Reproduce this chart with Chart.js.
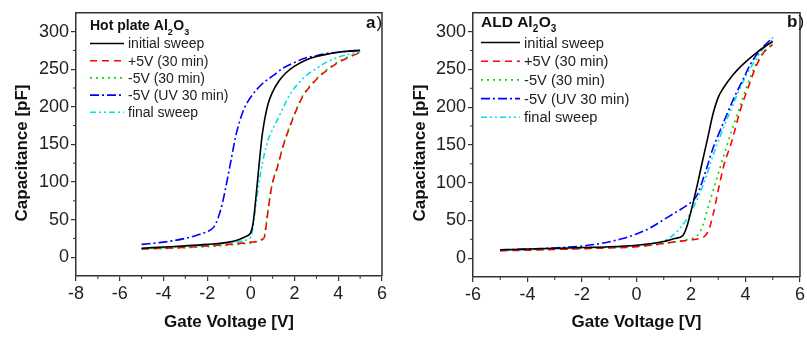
<!DOCTYPE html>
<html>
<head>
<meta charset="utf-8">
<script src="https://cdn.jsdelivr.net/npm/chart.js@4.4.1/dist/chart.umd.min.js"></script>
<style>
  html, body { margin: 0; padding: 0; background: #fff; }
  #wrap { position: relative; width: 807px; height: 337px; }
  #left { position: absolute; left: 0; top: 0; }
  #right { position: absolute; left: 400px; top: 0; }
</style>
</head>
<body>
<div id="wrap">
  <canvas id="left" width="400" height="337"></canvas>
  <canvas id="right" width="407" height="337"></canvas>
</div>
<script>
// series names (same for both panels)
const seriesLabels = ['initial sweep', '+5V (30 min)', '-5V (30 min)', '-5V (UV 30 min)', 'final sweep'];
const capTicks = [0, 50, 100, 150, 200, 250, 300];

// ---- panel a) hot plate Al2O3 : gate voltage [V] / capacitance [pF]
const hpInitialV = [-5, -4, -3, -2, -1, -0.5, -0.2, 0, 0.1, 0.2, 0.3, 0.4, 0.5, 0.6, 0.8, 1.0, 1.3, 1.6, 2.0, 2.5, 3.0, 3.5, 4.0, 4.5, 5];
const hpInitialC = [12, 13.5, 15, 17, 20, 24, 28, 33, 45, 70, 100, 130, 158, 178, 205, 220, 235, 245, 254, 262, 267, 270, 272.5, 274, 275];
const hpPlusV = [-5, -4, -3, -2, -1, 0, 0.3, 0.5, 0.62, 0.7, 0.8, 0.9, 1.0, 1.2, 1.5, 1.8, 2.1, 2.4, 2.8, 3.2, 3.6, 4.0, 4.5, 5];
const hpPlusC = [11, 12, 13, 15, 17, 20, 21, 23, 27, 42, 65, 85, 100, 118, 150, 175, 197, 215, 230, 242, 251, 259, 266, 272];
const hpMinusV = [-5, -4, -3, -2, -1, 0, 0.3, 0.5, 0.62, 0.7, 0.8, 0.9, 1.0, 1.2, 1.5, 1.8, 2.1, 2.4, 2.8, 3.2, 3.6, 4.0, 4.5, 5];
const hpMinusC = [11, 11.5, 12.5, 14, 16, 19, 21, 24, 28, 44, 66, 86, 101, 119, 151, 176, 198, 216, 231, 243, 252, 260, 267, 273];
const hpUvV = [-5, -4, -3, -2.5, -2, -1.7, -1.5, -1.3, -1.1, -0.9, -0.7, -0.5, -0.3, 0, 0.5, 1.0, 1.5, 2.0, 2.5, 3.0, 3.5, 4.0, 4.5, 5];
const hpUvC = [17, 20, 25, 29, 34, 40, 52, 72, 100, 130, 160, 182, 198, 213, 230, 241, 252, 259, 265, 268, 271, 272.5, 274, 275];
const hpFinalV = [-5, -4, -3, -2, -1, -0.5, -0.2, 0, 0.1, 0.2, 0.3, 0.45, 0.6, 0.8, 1.0, 1.2, 1.5, 1.8, 2.2, 2.6, 3.0, 3.5, 4.0, 4.5, 5];
const hpFinalC = [11, 12.5, 14, 16, 19, 21, 23, 27, 40, 62, 85, 113, 135, 157, 170, 182, 200, 217, 232, 243, 251, 260, 266, 270, 273];

// ---- panel b) ALD Al2O3
const aldInitialV = [-5, -4, -3, -2, -1, 0, 0.5, 1.0, 1.4, 1.7, 1.85, 2.0, 2.2, 2.4, 2.6, 2.8, 3.0, 3.2, 3.5, 3.8, 4.1, 4.4, 4.7, 5];
const aldInitialC = [11, 12, 13, 14, 15, 17, 19, 22, 26, 30, 42, 62, 92, 125, 157, 190, 213, 226, 241, 253, 263, 272, 280, 287];
const aldPlusV = [-5, -4, -3, -2, -1, 0, 0.5, 1.0, 1.5, 2.0, 2.3, 2.5, 2.65, 2.8, 3.0, 3.2, 3.5, 3.8, 4.1, 4.4, 4.7, 5];
const aldPlusC = [10, 10.5, 11.5, 12.5, 13.5, 15, 17, 19.5, 22, 24, 26, 29, 37, 56, 90, 122, 155, 195, 226, 255, 274, 283];
const aldMinusV = [-5, -4, -3, -2, -1, 0, 0.5, 1.0, 1.5, 1.9, 2.1, 2.3, 2.45, 2.6, 2.8, 3.0, 3.3, 3.6, 3.9, 4.2, 4.5, 4.8, 5];
const aldMinusC = [10, 11, 12, 13, 14, 15.5, 17, 19, 22, 25, 27, 33, 45, 64, 88, 112, 147, 180, 212, 242, 265, 277, 283];
const aldUvV = [-5, -4, -3, -2, -1.3, -0.5, 0, 0.5, 1.0, 1.5, 2.0, 2.2, 2.4, 2.6, 2.8, 3.0, 3.3, 3.6, 3.9, 4.2, 4.6, 5];
const aldUvC = [11, 12, 13.5, 16, 19.5, 26, 32, 40, 51, 62, 74, 82, 100, 122, 145, 163, 189, 214, 236, 258, 278, 292];
const aldFinalV = [-5, -4, -3, -2, -1, 0, 0.5, 1.0, 1.3, 1.6, 1.9, 2.2, 2.5, 2.8, 3.1, 3.4, 3.7, 4.0, 4.3, 4.6, 5];
const aldFinalC = [10, 11, 12, 13, 14.5, 16.5, 19, 23, 29, 40, 55, 76, 102, 135, 164, 191, 217, 240, 259, 275, 290];

const FONT = '"Liberation Sans", Arial, Helvetica, sans-serif';
const styles = [
    { color: '#000000', dash: [] },
    { color: '#ff0000', dash: [7, 5] },
    { color: '#00dd00', dash: [2, 4] },
    { color: '#0000ff', dash: [9, 3, 2, 3] },
    { color: '#00e0e8', dash: [6, 3, 2, 3, 2, 3] }
];

function pairs(xs, ys) {
    return xs.map((v, i) => ({ x: v, y: ys[i] }));
}

function makeDatasets(series) {
    return series.map((s, i) => ({
        label: seriesLabels[i],
        data: pairs(s[0], s[1]),
        borderColor: styles[i].color,
        borderDash: styles[i].dash,
        borderWidth: 1.6,
        pointRadius: 0,
        showLine: true,
        fill: false,
        cubicInterpolationMode: 'monotone'
    }));
}

// frame, minor ticks, in-plot legend with subscripts, panel letter, y title
const decor = {
    id: 'decor',
    afterDraw(chart, args, o) {
        const { ctx, chartArea: a, scales: { x, y } } = chart;
        ctx.save();
        ctx.strokeStyle = '#333';
        ctx.lineWidth = 1.5;
        ctx.beginPath();
        ctx.moveTo(a.left, a.top);
        ctx.lineTo(a.right, a.top);
        ctx.lineTo(a.right, a.bottom);
        ctx.stroke();

        ctx.lineWidth = 1;
        ctx.beginPath();
        for (let v = x.min + 1; v < x.max; v += 2) {
            const px = x.getPixelForValue(v);
            ctx.moveTo(px, a.bottom);
            ctx.lineTo(px, a.bottom + 3);
        }
        for (let v = 25; v < y.max; v += 50) {
            const py = y.getPixelForValue(v);
            ctx.moveTo(a.left, py);
            ctx.lineTo(a.left - 3, py);
        }
        ctx.stroke();

        // legend title with subscripts
        ctx.fillStyle = '#111';
        ctx.textBaseline = 'alphabetic';
        let tx = o.x;
        o.title.forEach(part => {
            const sub = part[1];
            ctx.font = sub ? 'bold ' + Math.round(o.titleSize * 0.65) + 'px ' + FONT : 'bold ' + o.titleSize + 'px ' + FONT;
            ctx.fillText(part[0], tx, o.titleY + (sub ? 5 : 0));
            tx += ctx.measureText(part[0]).width + (sub ? 0.5 : 0);
        });

        // legend rows
        chart.data.datasets.forEach((ds, i) => {
            const cy = o.rowY + i * o.rowH;
            ctx.strokeStyle = ds.borderColor;
            ctx.lineWidth = 1.6;
            ctx.setLineDash(ds.borderDash);
            ctx.beginPath();
            ctx.moveTo(o.x, cy);
            ctx.lineTo(o.x + o.sampleW, cy);
            ctx.stroke();
            ctx.setLineDash([]);
            ctx.fillStyle = '#222';
            ctx.font = o.textSize + 'px ' + FONT;
            ctx.textBaseline = 'middle';
            ctx.fillText(ds.label, o.x + o.sampleW + 4, cy + 1);
        });

        // panel letter
        ctx.textBaseline = 'middle';
        ctx.font = 'bold 17px ' + FONT;
        ctx.fillStyle = '#111';
        ctx.fillText(o.letter, o.letterX, o.letterY);
        const lw = ctx.measureText(o.letter).width;
        ctx.font = '17px ' + FONT;
        ctx.fillText(')', o.letterX + lw + 1, o.letterY);

        // y axis title
        ctx.translate(o.yTitleX, 153);
        ctx.rotate(-Math.PI / 2);
        ctx.textAlign = 'center';
        ctx.font = 'bold 17px ' + FONT;
        ctx.fillText('Capacitance [pF]', 0, 0);
        ctx.restore();
    }
};

function makeChart(id, series, xMin, axisW, padRight, axisH, deco) {
    return new Chart(document.getElementById(id), {
        type: 'scatter',
        data: { datasets: makeDatasets(series) },
        plugins: [decor],
        options: {
            responsive: false,
            animation: false,
            layout: { padding: { top: 7, right: padRight, left: 0, bottom: 0 } },
            plugins: {
                legend: { display: false },
                tooltip: { enabled: false },
                decor: deco
            },
            scales: {
                x: {
                    type: 'linear',
                    min: xMin,
                    max: 6,
                    afterFit: s => { s.height = axisH; },
                    ticks: {
                        stepSize: 2,
                        autoSkip: false,
                        maxRotation: 0,
                        padding: 2,
                        color: '#222',
                        font: { family: FONT, size: 18 }
                    },
                    grid: { drawOnChartArea: false, tickLength: 5, color: '#333', lineWidth: 1.2 },
                    border: { color: '#333', width: 1.5 },
                    title: {
                        display: true,
                        text: 'Gate Voltage [V]',
                        color: '#111',
                        padding: { top: 0, bottom: 4 },
                        font: { family: FONT, size: 17, weight: 'bold' }
                    }
                },
                y: {
                    min: -25,
                    max: 325,
                    afterFit: s => { s.width = axisW; },
                    afterBuildTicks: s => { s.ticks = capTicks.map(v => ({ value: v })); },
                    ticks: {
                        padding: 2,
                        color: '#222',
                        font: { family: FONT, size: 18 }
                    },
                    grid: { drawOnChartArea: false, tickLength: 5, color: '#333', lineWidth: 1.2 },
                    border: { color: '#333', width: 1.5 }
                }
            }
        }
    });
}

makeChart('left', [
    [hpInitialV, hpInitialC],
    [hpPlusV, hpPlusC],
    [hpMinusV, hpMinusC],
    [hpUvV, hpUvC],
    [hpFinalV, hpFinalC]
], -8, 76, 18, 61, {
    title: [['Hot plate Al', false], ['2', true], ['O', false], ['3', true]],
    titleSize: 14, textSize: 14,
    x: 90, titleY: 30, rowY: 43.5, rowH: 17.2, sampleW: 34,
    letter: 'a', letterX: 366, letterY: 23, yTitleX: 22
});

makeChart('right', [
    [aldInitialV, aldInitialC],
    [aldPlusV, aldPlusC],
    [aldMinusV, aldMinusC],
    [aldUvV, aldUvC],
    [aldFinalV, aldFinalC]
], -6, 73, 3, 60, {
    title: [['ALD Al', false], ['2', true], ['O', false], ['3', true]],
    titleSize: 15.5, textSize: 14.7,
    x: 81, titleY: 27, rowY: 42.5, rowH: 18.7, sampleW: 39,
    letter: 'b', letterX: 387, letterY: 22, yTitleX: 20
});
</script>
</body>
</html>
